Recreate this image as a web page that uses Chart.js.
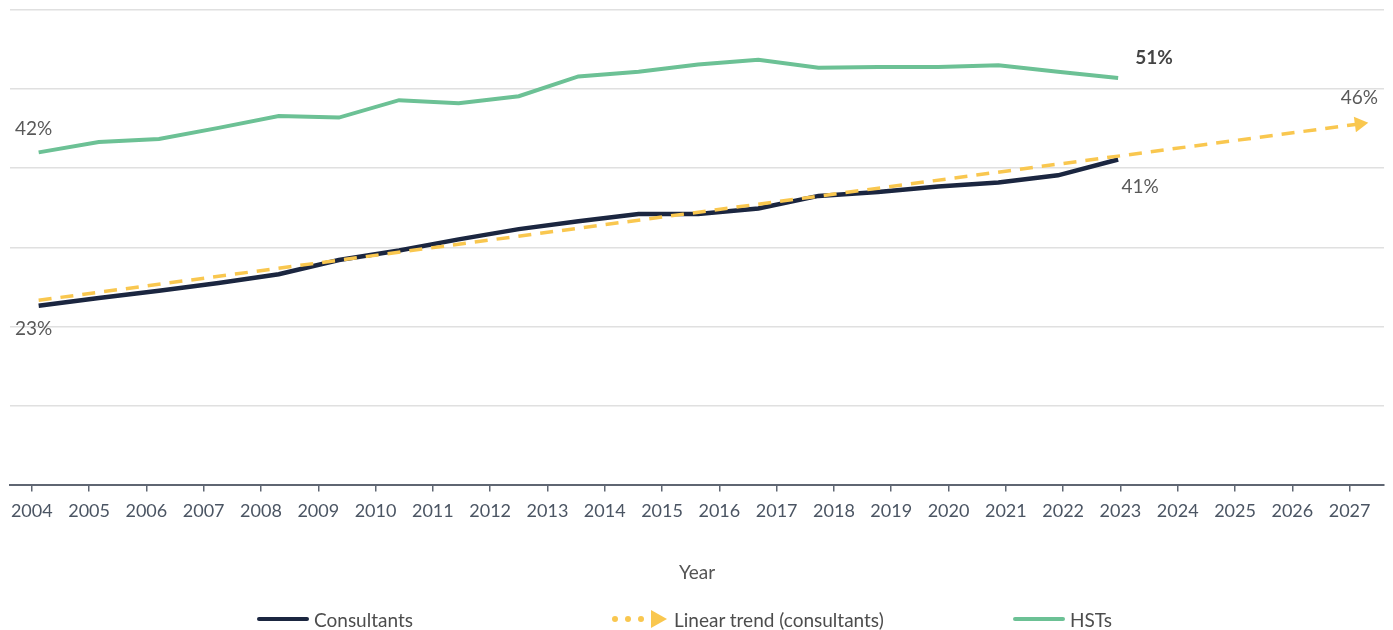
<!DOCTYPE html>
<html>
<head>
<meta charset="utf-8">
<script src="https://cdn.jsdelivr.net/npm/chart.js@4.4.1/dist/chart.umd.min.js"></script>
<style>
  html, body { margin: 0; padding: 0; background: #fff; }
  #wrap { position: relative; width: 1393px; height: 630px; }
  #legend { position: absolute; left: 0; top: 608px; width: 1393px; height: 22px; font: 19px Lato, sans-serif; color: #4d4d4d; }
  .item { position: absolute; top: 0; height: 22px; display: flex; align-items: center; }
  .line { width: 52px; height: 4px; border-radius: 2px; margin-right: 5px; }
  .dot { width: 6px; height: 6px; border-radius: 3px; background: #f9c74f; margin-right: 7px; }
  .tri { width: 0; height: 0; border-top: 9px solid transparent; border-bottom: 9px solid transparent; border-left: 16px solid #f9c74f; margin-right: 7px; }
</style>
</head>
<body>
<div id="wrap">
  <canvas id="chart" width="1393" height="630"></canvas>
  <div id="legend">
    <div class="item" style="left:257px"><span class="line" style="background:#1b2640"></span>Consultants</div>
    <div class="item" style="left:612px"><span class="dot"></span><span class="dot"></span><span class="dot"></span><span class="tri"></span>Linear trend (consultants)</div>
    <div class="item" style="left:1013px"><span class="line" style="background:#6cc195"></span>HSTs</div>
  </div>
</div>
<script>
  'use strict';

  // tick labels on the year axis
  var yearTicks = [2004, 2005, 2006, 2007, 2008, 2009, 2010, 2011, 2012, 2013, 2014, 2015,
    2016, 2017, 2018, 2019, 2020, 2021, 2022, 2023, 2024, 2025, 2026, 2027];

  var periods = [2004.12, 2005.17, 2006.22, 2007.26, 2008.31, 2009.36, 2010.41, 2011.45, 2012.5, 2013.54,
    2014.59, 2015.63, 2016.68, 2017.73, 2018.77, 2019.82, 2020.87, 2021.91, 2022.96];

  // share (%)
  var consultants = [22.6, 23.6, 24.5, 25.5, 26.6, 28.4, 29.6, 31.0, 32.3, 33.3,
    34.2, 34.2, 34.9, 36.5, 37.0, 37.7, 38.2, 39.1, 41.1];
  var hsts = [42.0, 43.3, 43.7, 45.1, 46.6, 46.4, 48.6, 48.2, 49.1, 51.6,
    52.2, 53.1, 53.7, 52.7, 52.8, 52.8, 53.0, 52.2, 51.4];

  var trendYears = [2004.12, 2027.17];
  var trendValues = [23.3, 45.6];

  var NAVY = '#1b2640';
  var GREEN = '#6cc195';
  var YELLOW = '#f9c74f';
  var FONT = 'Lato, sans-serif';

  function pairs(xs, ys) {
    return xs.map(function (x, i) {
      return { x: x, y: ys[i] };
    });
  }

  // value labels next to the first / last points
  var pointLabels = [
    { ds: 2, idx: 0, text: '42%', dx: -5, dy: -24, bold: false },
    { ds: 1, idx: 0, text: '23%', dx: -5, dy: 23, bold: false },
    { ds: 2, idx: 18, text: '51%', dx: 36, dy: -20, bold: true },
    { ds: 1, idx: 18, text: '41%', dx: 22, dy: 27, bold: false },
    { ds: 0, idx: 1, text: '46%', dx: 0, dy: -26, bold: false },
  ];

  var labelPlugin = {
    id: 'pointLabels',
    afterDatasetsDraw: function (chart) {
      var ctx = chart.ctx;
      ctx.save();
      ctx.textAlign = 'center';
      ctx.textBaseline = 'middle';
      pointLabels.forEach(function (l) {
        var el = chart.getDatasetMeta(l.ds).data[l.idx];
        ctx.font = (l.bold ? 'bold ' : '') + '19px ' + FONT;
        ctx.fillStyle = l.bold ? '#444444' : '#595959';
        ctx.fillText(l.text, el.x + l.dx, el.y + l.dy);
      });
      ctx.restore();
    },
  };

  new Chart(document.getElementById('chart'), {
    type: 'line',
    data: {
      datasets: [
        {
          label: 'Linear trend (consultants)',
          data: pairs(trendYears, trendValues),
          borderColor: YELLOW,
          backgroundColor: YELLOW,
          borderWidth: 3.5,
          borderDash: [13, 9],
          pointRadius: [0, 9],
          pointStyle: 'triangle',
          pointRotation: function (ctx) {
            var meta = ctx.chart.getDatasetMeta(0);
            if (!meta.data[1]) return 90;
            var a = meta.data[0], b = meta.data[1];
            return 90 + Math.atan2(b.y - a.y, b.x - a.x) * 180 / Math.PI;
          },
          pointBorderWidth: 0,
        },
        {
          label: 'Consultants',
          data: pairs(periods, consultants),
          borderColor: NAVY,
          borderWidth: 4.5,
          pointRadius: 0,
        },
        {
          label: 'HSTs',
          data: pairs(periods, hsts),
          borderColor: GREEN,
          borderWidth: 4,
          pointRadius: 0,
        },
      ],
    },
    options: {
      responsive: false,
      animation: false,
      layout: { padding: { left: 10, right: 0, top: 10, bottom: 43 } },
      plugins: { legend: { display: false }, tooltip: { enabled: false } },
      scales: {
        x: {
          type: 'linear',
          min: 2003.62,
          max: 2027.6,
          afterBuildTicks: function (s) {
            s.ticks = yearTicks.map(function (v) {
              return { value: v };
            });
          },
          grid: { drawOnChartArea: false, drawTicks: true, tickLength: 7, color: '#5f6672', lineWidth: 1.5 },
          border: { display: true, color: '#5f6672', width: 2 },
          ticks: {
            color: '#4b5563',
            font: { family: FONT, size: 18 },
            padding: 9,
            maxRotation: 0,
            autoSkip: false,
            callback: function (v) {
              return String(v);
            },
          },
          title: { display: true, text: 'Year', color: '#555555', font: { family: FONT, size: 19 }, padding: { top: 30, bottom: 3 } },
        },
        y: {
          min: 0,
          max: 60,
          ticks: { display: false, stepSize: 10 },
          border: { display: false },
          grid: { drawTicks: false, color: '#e0e0e0', lineWidth: 1.5 },
        },
      },
    },
    plugins: [labelPlugin],
  });
</script>
</body>
</html>
